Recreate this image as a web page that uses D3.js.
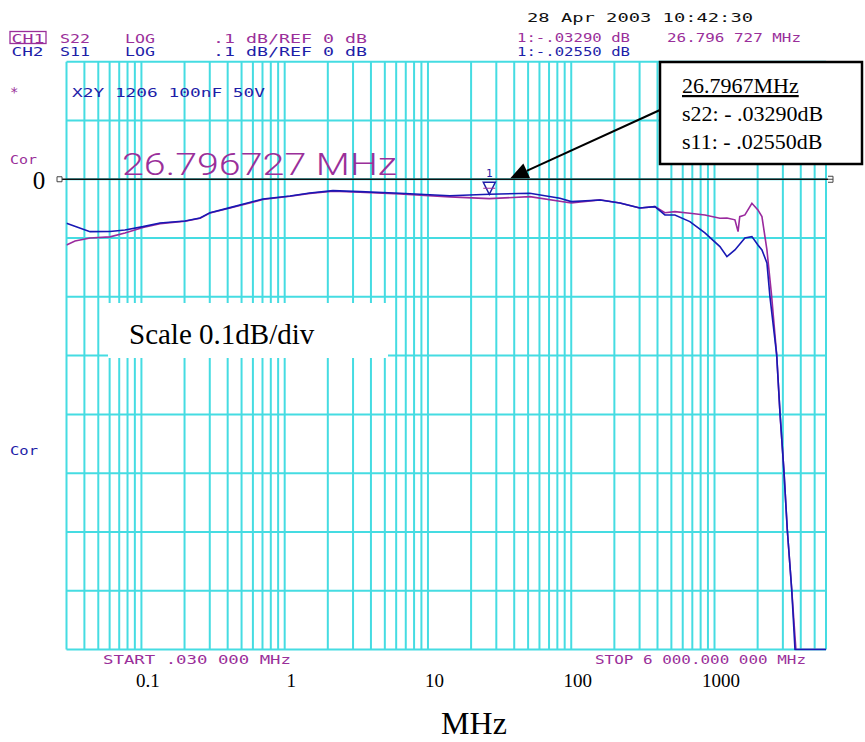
<!DOCTYPE html>
<html><head><meta charset="utf-8">
<script src="https://cdn.jsdelivr.net/npm/d3@7"></script>
<style>html,body{margin:0;padding:0;background:#fff;}svg{display:block;}</style>
</head><body>
<script>
// ---------- DATA ----------
const s11Freq = [0.03,0.0438,0.0604,0.0767,0.1026,0.135,0.2015,0.2564,0.301,0.415,0.705,1.09,1.5,2.17,3.35,6.37,14.2,26.8,51.4,83.4,100,158.6,218.6,301,383.7,450.6,529,673,857,1091,1221,1388,1630,1824,2009,2143,2322,2437,2716,2864,3054,3221,3456,3645,6000];
const s11dB   = [-0.0748,-0.0891,-0.089,-0.0862,-0.0806,-0.0743,-0.0709,-0.0658,-0.0568,-0.0483,-0.0335,-0.0284,-0.0233,-0.0194,-0.0211,-0.0238,-0.0280,-0.0255,-0.0238,-0.0323,-0.0380,-0.0352,-0.0403,-0.0488,-0.0466,-0.0607,-0.0607,-0.0721,-0.0913,-0.1146,-0.1316,-0.1202,-0.0998,-0.0976,-0.1117,-0.1202,-0.1423,-0.1997,-0.2988,-0.3974,-0.4973,-0.5964,-0.6970,-0.800,-0.800];
const s22Freq = [0.03,0.0344,0.0438,0.0604,0.0767,0.1026,0.135,0.2015,0.2564,0.301,0.415,0.705,1.09,1.5,2.17,3.35,6.37,14.2,26.8,51.4,100,158.6,218.6,301,383.7,450.6,529,673,857,1091,1221,1388,1460,1500,1630,1824,2009,2143,2322,2500,2716,2864,3054,3221,3456,3700,6000];
const s22dB   = [-0.1117,-0.105,-0.0998,-0.098,-0.0913,-0.082,-0.0755,-0.0715,-0.0665,-0.0575,-0.0490,-0.0345,-0.0290,-0.0240,-0.0205,-0.0220,-0.0250,-0.0300,-0.0329,-0.0296,-0.0403,-0.0350,-0.0403,-0.0488,-0.0466,-0.0570,-0.0550,-0.0578,-0.0607,-0.0663,-0.0660,-0.0690,-0.0890,-0.0636,-0.0607,-0.0408,-0.0522,-0.0636,-0.1202,-0.1968,-0.2988,-0.3974,-0.4973,-0.5964,-0.6970,-0.800,-0.800];
const xTickValues = [0.1,1,10,100,1000];
const xTickLabels = ["0.1","1","10","100","1000"];
const yGridValues = [0.2,0.1,0,-0.1,-0.2,-0.3,-0.4,-0.5,-0.6,-0.7,-0.8];
const markerFreq = 26.796727;
const markerS22 = -0.0329, markerS11 = -0.0255;

// ---------- STYLE ----------
const W = 865, H = 742;
const PURPLE = "#9a2f9a", BLUE = "#1e1ea8", TRACE_P = "#9a2a9e", TRACE_B = "#1818b4", GRID = "#45dce2";
const MONO = "'DejaVu Sans Mono', monospace";
const SERIF = "'Liberation Serif', 'Times New Roman', serif";

const svg = d3.select("body").append("svg").attr("width", W).attr("height", H);
svg.append("rect").attr("width", W).attr("height", H).attr("fill", "#fff");

const x = d3.scaleLog().domain([0.03, 6000]).range([66.5, 826]);
const y = d3.scaleLinear().domain([0.2, -0.8]).range([61.7, 649.5]);

// grid
const gridFreqs = [];
for (let n = -2; n <= 3; n++) for (let k = 1; k <= 9; k++) {
  const v = +(k * Math.pow(10, n)).toPrecision(6);
  if (v >= 0.03 && v <= 6000) gridFreqs.push(v);
}
const grid = svg.append("g");
grid.selectAll("line.v").data(gridFreqs).join("line")
  .attr("x1", d => x(d)).attr("x2", d => x(d)).attr("y1", y(0.2)).attr("y2", y(-0.8))
  .attr("stroke", GRID).attr("stroke-width", 2);
grid.selectAll("line.h").data(yGridValues).join("line")
  .attr("x1", x(0.03)).attr("x2", x(6000)).attr("y1", d => y(d)).attr("y2", d => y(d))
  .attr("stroke", GRID).attr("stroke-width", 2);

// reference line (0 dB)
svg.append("line").attr("x1", 62).attr("x2", 828).attr("y1", y(0)).attr("y2", y(0))
  .attr("stroke", "#111").attr("stroke-width", 1.4);
svg.append("path").attr("d", `M57,${y(0)-2.5}h5v5h-5z`).attr("fill","none").attr("stroke","#444").attr("stroke-width",1);
svg.append("path").attr("d", `M828,${y(0)-3}h5v6h-5M828,${y(0)}h5`).attr("fill","none").attr("stroke","#444").attr("stroke-width",1);

// traces
svg.append("clipPath").attr("id","clip").append("rect")
  .attr("x", x(0.03)).attr("y", y(0.2)).attr("width", x(6000)-x(0.03)).attr("height", y(-0.8)-y(0.2)+1);
const line = d3.line().x(d => x(d[0])).y(d => y(d[1]));
const tr = svg.append("g").attr("clip-path","url(#clip)");
tr.append("path").datum(s22Freq.map((f,i)=>[f,s22dB[i]])).attr("d", line)
  .attr("fill","none").attr("stroke", TRACE_P).attr("stroke-width", 1.6);
tr.append("path").datum(s11Freq.map((f,i)=>[f,s11dB[i]])).attr("d", line)
  .attr("fill","none").attr("stroke", TRACE_B).attr("stroke-width", 1.6);

// marker
const mx = x(markerFreq);
svg.append("path").attr("d", `M${mx-6},${y(0)+3}L${mx+6},${y(0)+3}L${mx},${y(markerS11)}Z`)
  .attr("fill","none").attr("stroke", BLUE).attr("stroke-width",1.5);
svg.append("line").attr("x1", mx-6).attr("x2", mx+6).attr("y1", y(0)+9).attr("y2", y(0)+9).attr("stroke", PURPLE).attr("stroke-width",1);
svg.append("text").attr("x", mx).attr("y", y(0)-2).attr("text-anchor","middle")
  .attr("font-family", MONO).attr("font-size", 11).attr("fill", BLUE).text("1");

// header texts
function t(txt, x0, y0, color, size, len) {
  const e = svg.append("text").attr("x", x0).attr("y", y0).attr("fill", color)
    .attr("font-family", MONO).attr("font-size", size).text(txt);
  if (len) e.attr("textLength", len).attr("lengthAdjust", "spacingAndGlyphs");
  return e;
}
svg.append("rect").attr("x", 10).attr("y", 31.5).attr("width", 36).attr("height", 12).attr("fill","none").attr("stroke", PURPLE).attr("stroke-width",1.3);
t("CH1", 11.5, 42.5, PURPLE, 11.5, 33);
t("S22", 60, 42.5, PURPLE, 11.5, 30);
t("LOG", 125, 42.5, PURPLE, 11.5, 30);
t(".1 dB/REF 0 dB", 213, 42.5, PURPLE, 11.5, 154);
t("CH2", 11.5, 56, BLUE, 11.5, 32);
t("S11", 60, 56, BLUE, 11.5, 30);
t("LOG", 125, 56, BLUE, 11.5, 30);
t(".1 dB/REF 0 dB", 213, 56, BLUE, 11.5, 154);
t("28 Apr 2003  10:42:30", 527, 21.5, "#111", 13, 226);
t("1:-.03290 dB", 517, 42, PURPLE, 11.5, 113);
t("26.796 727 MHz", 667, 42, PURPLE, 11.5, 134);
t("1:-.02550 dB", 517, 56, BLUE, 11.5, 113);
t("*", 10, 97, PURPLE, 14);
t("X2Y 1206 100nF 50V", 72, 97, BLUE, 13, 193);
t("Cor", 10, 164, PURPLE, 12, 27);
t("Cor", 10, 455, BLUE, 12, 28);
svg.append("text").attr("x", 122).attr("y", 174.5).attr("fill", PURPLE)
  .attr("font-family", "Roboto, 'DejaVu Sans', sans-serif").attr("font-weight", 300).attr("font-size", 31)
  .attr("textLength", 275).attr("lengthAdjust", "spacingAndGlyphs").text("26.796727 MHz");
t("START  .030 000 MHz", 103, 664, PURPLE, 11.5, 188);
t("STOP 6 000.000 000 MHz", 595, 664, PURPLE, 11.5, 211);

// "0" label
svg.append("text").attr("x", 39).attr("y", 189).attr("text-anchor","middle")
  .attr("font-family", SERIF).attr("font-size", 25).attr("fill","#000").text("0");

// x tick labels
const axis = d3.axisBottom(x).tickValues(xTickValues).tickFormat((d,i) => xTickLabels[i]).tickSize(0).tickPadding(0);
const ag = svg.append("g").attr("transform", `translate(6,672)`).call(axis);
ag.select(".domain").remove();
ag.selectAll("text").attr("font-family", SERIF).attr("font-size", 19).attr("fill","#000").attr("dy", "0.8em");

svg.append("text").attr("x", 474).attr("y", 734).attr("text-anchor","middle")
  .attr("font-family", SERIF).attr("font-size", 32).attr("fill","#000").text("MHz");

// Scale box
svg.append("rect").attr("x", 108).attr("y", 303).attr("width", 280).attr("height", 55).attr("fill","#fff");
svg.append("text").attr("x", 129).attr("y", 344).attr("font-family", SERIF).attr("font-size", 29).attr("fill","#000").text("Scale 0.1dB/div");

// annotation box + arrow
const tipX = mx + 21, tipY = y(0) - 1;
const sx = 660, sy = 110;
const ang = Math.atan2(tipY - sy, tipX - sx);
const L = 18, Wd = 8;
const bx = tipX - L*Math.cos(ang), by = tipY - L*Math.sin(ang);
svg.append("line").attr("x1", sx).attr("y1", sy).attr("x2", bx).attr("y2", by).attr("stroke","#000").attr("stroke-width",2);
svg.append("path").attr("d", `M${tipX},${tipY}L${bx + Wd*Math.sin(ang)},${by - Wd*Math.cos(ang)}L${bx - Wd*Math.sin(ang)},${by + Wd*Math.cos(ang)}Z`).attr("fill","#000");
svg.append("rect").attr("x", 660).attr("y", 62).attr("width", 202).attr("height", 102).attr("fill","#fff").attr("stroke","#000").attr("stroke-width",2.5);
svg.append("text").attr("x", 682).attr("y", 93).attr("font-family", SERIF).attr("font-size", 22).attr("fill","#000")
  .attr("text-decoration","underline").text("26.7967MHz");
svg.append("text").attr("x", 682).attr("y", 121).attr("font-family", SERIF).attr("font-size", 22).attr("fill","#000")
  .text(`s22: - ${String(markerS22).replace("-0","").padEnd(6,"0")}dB`);
svg.append("text").attr("x", 682).attr("y", 149).attr("font-family", SERIF).attr("font-size", 22).attr("fill","#000")
  .text(`s11: - ${String(markerS11).replace("-0","").padEnd(6,"0")}dB`);
</script>
</body></html>
